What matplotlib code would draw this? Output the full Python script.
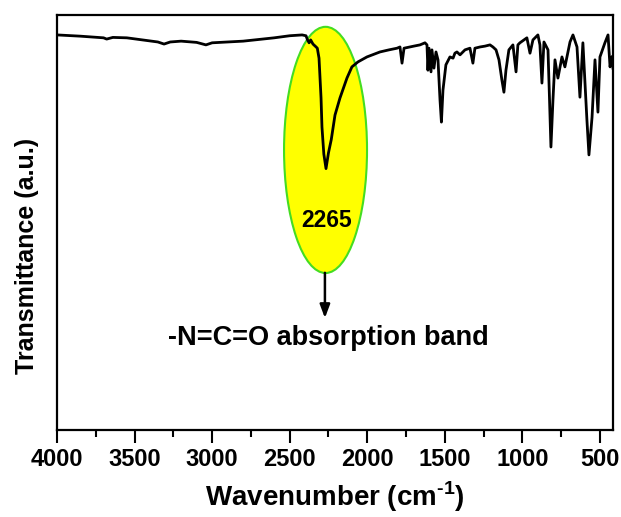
import matplotlib
matplotlib.use("Agg")
import matplotlib.pyplot as plt
from matplotlib.patches import Ellipse
from matplotlib.ticker import MultipleLocator

plt.rcParams['font.family'] = ['Liberation Sans', 'DejaVu Sans']
plt.rcParams['font.weight'] = 'bold'
plt.rcParams['mathtext.fontset'] = 'custom'
plt.rcParams['mathtext.rm'] = 'Liberation Sans:bold'
plt.rcParams['mathtext.bf'] = 'Liberation Sans:bold'

wavenumber = [4000, 3850, 3700, 3680, 3640, 3550, 3450, 3350, 3310, 3270, 3200, 3100,
              3040, 3000, 2900, 2800, 2700, 2600, 2500, 2420, 2395, 2385, 2375, 2365,
              2350, 2330, 2322, 2311, 2298, 2292, 2280, 2266, 2250, 2232, 2208, 2176,
              2131, 2099, 2060, 2002, 1918, 1860, 1808, 1789, 1776, 1763, 1700, 1660,
              1628, 1615, 1609, 1602, 1589, 1583, 1570, 1557, 1544, 1531, 1522, 1512,
              1493, 1467, 1447, 1435, 1422, 1402, 1370, 1338, 1319, 1306, 1273, 1241,
              1209, 1190, 1170, 1151, 1132, 1119, 1106, 1087, 1061, 1041, 1029, 1016,
              971, 951, 932, 900, 887, 874, 861, 835, 825, 816, 803, 790, 771, 745,
              726, 693, 674, 648, 629, 610, 584, 571, 551, 532, 513, 500, 468, 448,
              435, 422, 416]
transmittance = [95.2, 94.9, 94.5, 94.2, 94.6, 94.5, 94.0, 93.5, 93.0, 93.5, 93.7, 93.4,
                 92.8, 93.3, 93.5, 93.7, 94.1, 94.5, 95.0, 95.2, 95.0, 94.0, 93.3, 94.0,
                 93.0, 92.3, 92.0, 89.6, 80.0, 73.0, 66.5, 63.0, 66.8, 70.0, 75.9, 80.0,
                 84.8, 87.5, 88.7, 89.9, 91.1, 91.6, 92.0, 92.3, 88.4, 92.0, 92.5, 92.8,
                 93.3, 92.8, 86.7, 92.0, 86.3, 91.6, 87.2, 91.1, 89.2, 79.5, 74.2, 81.9,
                 88.0, 89.9, 89.6, 90.8, 91.1, 90.4, 91.6, 92.0, 88.4, 92.0, 92.3, 92.5,
                 92.8, 92.3, 91.6, 89.2, 84.3, 81.4, 86.7, 91.6, 92.8, 86.3, 92.8, 93.3,
                 94.5, 90.8, 94.0, 95.2, 92.8, 83.6, 93.5, 91.6, 79.5, 68.2, 79.5, 89.2,
                 84.8, 89.9, 87.5, 93.5, 95.2, 92.3, 80.2, 93.3, 74.7, 66.3, 75.4, 89.2,
                 76.6, 89.9, 93.3, 95.2, 87.5, 90.0, 87.2]

xticks = [4000, 3500, 3000, 2500, 2000, 1500, 1000, 500]

fig = plt.figure(figsize=(6.21, 5.17), dpi=100)
ax = fig.add_axes([0.0918, 0.168, 0.8953, 0.803])

ell = Ellipse((2269, 67.5), 535, 59.3, facecolor='#ffff00', edgecolor='#44dd22',
              lw=1.5, zorder=1)
ax.add_patch(ell)
ax.plot(wavenumber, transmittance, color='black', lw=2.0, zorder=3)

ax.text(2262, 50.6, '2265', ha='center', va='center', fontsize=16.5, fontweight='bold', zorder=4)
ax.annotate('', xy=(2273, 27.0), xytext=(2273, 37.9),
            arrowprops=dict(arrowstyle='-|>,head_width=0.3,head_length=0.8',
                            color='black', lw=1.8, shrinkA=0, shrinkB=0), zorder=4)
ax.text(2250, 20.5, '-N=C=O absorption band', ha='center', va='baseline',
        fontsize=19.5, fontweight='bold')

ax.set_xlim(4000, 416)
ax.set_ylim(0, 100)
ax.set_xticks(xticks)
ax.xaxis.set_minor_locator(MultipleLocator(250))
ax.set_yticks([])
ax.tick_params(axis='x', which='major', direction='out', length=9, width=1.5,
               labelsize=17, pad=4)
ax.tick_params(axis='x', which='minor', direction='out', length=5, width=1.5)
for lab in ax.get_xticklabels():
    lab.set_fontweight('bold')
for s in ax.spines.values():
    s.set_linewidth(1.6)

ax.set_xlabel('Wavenumber (cm$^{\\text{-1}}$)', fontsize=20, fontweight='bold', labelpad=6)
ax.set_ylabel('Transmittance (a.u.)', fontsize=18, fontweight='bold')
ax.yaxis.set_label_coords(-0.032, 0.42)

fig.savefig('out.png', dpi=100)
